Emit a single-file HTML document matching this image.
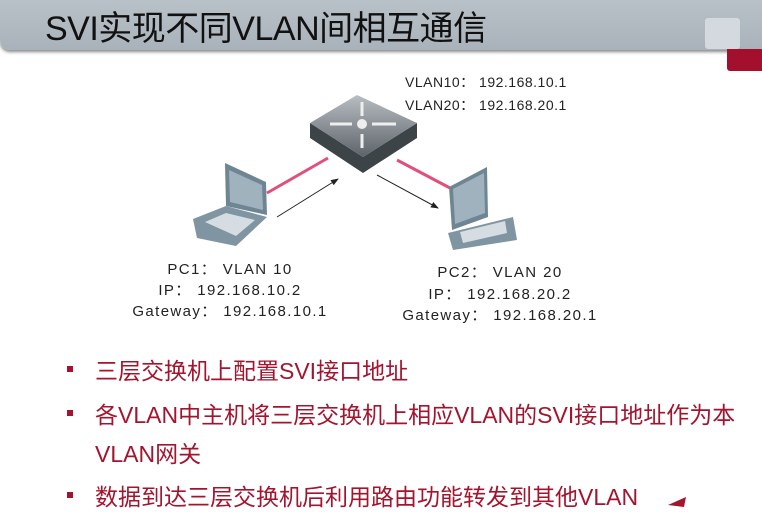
<!DOCTYPE html>
<html><head><meta charset="utf-8"><style>
body{margin:0;width:762px;height:507px;background:#fff;overflow:hidden;position:relative;font-family:"Liberation Sans","Noto Sans CJK SC",sans-serif}
.hdr{position:absolute;left:0;top:0;width:762px;height:50px;background:linear-gradient(#b9c1c8,#a9b2ba);border-bottom-left-radius:10px;box-shadow:0 2px 3px #888}
.title{position:absolute;left:45px;top:1px;font-size:34px;color:#111;letter-spacing:-0.5px}
.sq1{position:absolute;left:705px;top:18px;width:35px;height:31px;background:#d3d9de;border-radius:3px}
.sq2{position:absolute;left:727px;top:49px;width:35px;height:22px;background:#a3102d;border-radius:0 0 0 3px}
.t{position:absolute;font-size:15px;color:#222;white-space:nowrap;letter-spacing:1.4px}
.v{letter-spacing:0.5px;font-size:14px}
.b{position:absolute;left:95px;font-size:23px;color:#a3142e;white-space:nowrap}
.d{position:absolute;left:67px;width:6px;height:6px;background:#a3142e}
</style></head><body>
<div class="hdr"></div>
<div class="title">SVI实现不同VLAN间相互通信</div>
<div class="sq1"></div><div class="sq2"></div>
<svg width="762" height="507" style="position:absolute;left:0;top:0">
<defs><marker id="a" markerWidth="8" markerHeight="6" refX="7" refY="3" orient="auto"><path d="M0,0L8,3L0,6z" fill="#222"/></marker>
<linearGradient id="g" x1="0" y1="0" x2="0" y2="1"><stop offset="0" stop-color="#b8bdc2"/><stop offset="1" stop-color="#5d6469"/></linearGradient></defs>
<line x1="267" y1="193" x2="328" y2="158" stroke="#e0507a" stroke-width="3"/>
<line x1="397" y1="160" x2="450" y2="188" stroke="#e0507a" stroke-width="3"/>
<line x1="277" y1="217" x2="338" y2="179" stroke="#222" stroke-width="1" marker-end="url(#a)"/>
<line x1="377" y1="175" x2="438" y2="208" stroke="#222" stroke-width="1" marker-end="url(#a)"/>
<polygon points="310,123 363,157 417,123 417,138 363,173 310,138" fill="#3d4448"/>
<polygon points="310,123 357,95 417,123 363,157" fill="url(#g)"/>
<circle cx="362" cy="124" r="5" fill="#eee"/>
<path d="M330,124h22M396,124h-24M362,102v14M362,148v-14" stroke="#eee" stroke-width="3"/>
<polygon points="225,163 266,182 267,215 226,206" fill="#6e8593"/>
<polygon points="229,170 262,185 263,210 230,202" fill="#9fb2be"/>
<polygon points="193,219 226,206 267,217 236,246 197,238" fill="#7f95a2"/>
<polygon points="205,222 226,213 255,220 236,236" fill="#d6dde2"/>
<polygon points="449,187 487,167 488,217 452,230" fill="#6e8593"/>
<polygon points="453,189 484,173 485,213 455,224" fill="#9fb2be"/>
<polygon points="448,233 513,217 517,240 453,250" fill="#7f95a2"/>
<polygon points="460,232 505,221 507,233 463,243" fill="#d6dde2"/>
</svg>
<div class="t v" style="left:405px;top:72px">VLAN10： 192.168.10.1</div>
<div class="t v" style="left:405px;top:95px">VLAN20： 192.168.20.1</div>
<div class="t" style="left:130px;top:258px;width:200px;text-align:center">PC1： VLAN 10</div>
<div class="t" style="left:130px;top:279px;width:200px;text-align:center">IP： 192.168.10.2</div>
<div class="t" style="left:130px;top:300px;width:200px;text-align:center">Gateway： 192.168.10.1</div>
<div class="t" style="left:395px;top:261px;width:210px;text-align:center">PC2： VLAN 20</div>
<div class="t" style="left:395px;top:283px;width:210px;text-align:center">IP： 192.168.20.2</div>
<div class="t" style="left:395px;top:304px;width:210px;text-align:center">Gateway： 192.168.20.1</div>
<div class="d" style="top:366px"></div><div class="b" style="top:352px">三层交换机上配置SVI接口地址</div>
<div class="d" style="top:410px"></div><div class="b" style="top:396px">各VLAN中主机将三层交换机上相应VLAN的SVI接口地址作为本</div>
<div class="b" style="top:435px">VLAN网关</div>
<div class="d" style="top:492px"></div><div class="b" style="top:478px">数据到达三层交换机后利用路由功能转发到其他VLAN</div>
<svg width="762" height="507" style="position:absolute;left:0;top:0"><polygon points="668,505 686,497 684,507" fill="#a3142e"/></svg>
</body></html>
